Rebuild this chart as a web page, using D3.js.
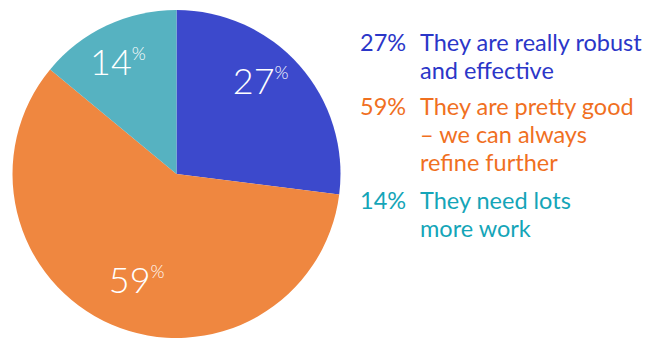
<!DOCTYPE html>
<html>
<head>
<meta charset="utf-8">
<script src="https://cdn.jsdelivr.net/npm/d3@7"></script>
<style>
  html, body { margin: 0; padding: 0; background: #fff; }
  svg { display: block; }
</style>
</head>
<body>
<svg id="chart" width="657" height="340"></svg>
<script>
// Survey answers, in drawing order (clockwise from 12 o'clock)
const categories = ["robust", "good", "needsWork"];
const values = [27, 59, 14];
const legendLines = [
  ["They are really robust", "and effective"],
  ["They are pretty good", "– we can always", "refine further"],
  ["They need lots", "more work"]
];
const sliceColors = ["#3c49cc", "#ef8740", "#56b2c1"];
const legendColors = ["#2b36c8", "#f0701f", "#14a5b8"];

const svg = d3.select("#chart");
const cx = 176.5, cy = 174, radius = 164;

const pie = d3.pie().sort(null).value(d => d.value);
const arcs = pie(categories.map((c, i) => ({ key: c, value: values[i], i })));

const arc = d3.arc().innerRadius(0).outerRadius(radius);
const labelR = 120;
const labelTurn = -4 * Math.PI / 180; // labels sit slightly counter-clockwise of the slice middle

const g = svg.append("g").attr("transform", `translate(${cx},${cy})`);

g.selectAll("path.slice")
  .data(arcs)
  .join("path")
  .attr("class", "slice")
  .attr("d", arc)
  .attr("fill", d => sliceColors[d.data.i]);

// In-slice value labels: large light number with a small raised percent sign
const labels = g.selectAll("text.val")
  .data(arcs)
  .join("text")
  .attr("class", "val")
  .attr("transform", d => {
    const a = (d.startAngle + d.endAngle) / 2 + labelTurn;
    return `translate(${labelR * Math.sin(a)},${-labelR * Math.cos(a)})`;
  })
  .attr("text-anchor", "middle")
  .attr("dy", "0.36em")
  .attr("fill", "#fff")
  .style("font-family", "Lato, 'Open Sans', sans-serif")
  .style("font-weight", 300);

labels.append("tspan")
  .style("font-size", "36px")
  .text(d => d.data.value);
labels.append("tspan")
  .style("font-size", "18px")
  .attr("dy", "-0.85em")
  .text("%");

// Legend
const legendX = 360, textX = 420;
const lineH = 28;
const groupTops = [51, 115, 209];

const legend = svg.append("g")
  .style("font-family", "Lato, 'Open Sans', sans-serif")
  .style("font-size", "23.5px");

legendLines.forEach((lines, i) => {
  legend.append("text")
    .attr("x", legendX)
    .attr("y", groupTops[i])
    .attr("fill", legendColors[i])
    .text(values[i] + "%");
  lines.forEach((ln, j) => {
    legend.append("text")
      .attr("x", textX)
      .attr("y", groupTops[i] + j * lineH)
      .attr("fill", legendColors[i])
      .text(ln);
  });
});
</script>
</body>
</html>
